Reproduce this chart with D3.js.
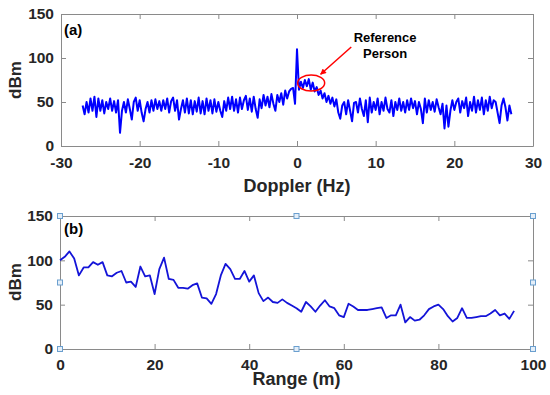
<!DOCTYPE html>
<html>
<head>
<meta charset="utf-8">
<script src="https://cdn.jsdelivr.net/npm/d3@7"></script>
<style>
  body { margin: 0; background: #fff; }
  svg { display: block; }
</style>
</head>
<body>
<main></main>
<script>
// (a) Doppler spectrum, bins every 0.25 Hz from -27.25 to 27.25
const dopplerStart = -27.25;
const dopplerStep = 0.25;
const dopplerDbm = [
  46, 36, 50, 38, 54, 40, 56, 33, 54, 40,
  52, 37, 50, 42, 54, 40, 51, 38, 52, 15,
  40, 50, 38, 53, 42, 30, 50, 55, 40, 52,
  38, 28, 42, 50, 38, 52, 40, 53, 42, 51,
  40, 52, 42, 54, 38, 51, 55, 40, 52, 30,
  42, 52, 38, 54, 37, 52, 36, 51, 39, 55,
  37, 51, 36, 54, 40, 52, 37, 53, 39, 50,
  40, 33, 51, 40, 55, 42, 56, 40, 53, 38,
  55, 42, 52, 57, 41, 54, 39, 56, 42, 32,
  53, 43, 58, 46, 56, 44, 59, 48, 40, 58,
  50, 60, 47, 63, 54, 62, 65, 66, 48, 110,
  64, 73, 66, 75, 68, 76, 64, 72, 62, 67,
  58, 63, 54, 60, 50, 57, 48, 55, 45, 53,
  38, 31, 46, 50, 36, 52, 40, 28, 49, 50,
  38, 54, 42, 34, 52, 27, 55, 38, 50, 41,
  54, 36, 50, 40, 55, 42, 38, 52, 34, 50,
  41, 54, 40, 50, 38, 52, 41, 54, 43, 51,
  36, 50, 42, 26, 54, 38, 52, 41, 50, 39,
  53, 44, 36, 48, 20, 46, 22, 40, 52, 41,
  50, 54, 38, 51, 43, 55, 34, 50, 40, 56,
  38, 52, 41, 55, 36, 52, 40, 56, 43, 52,
  50, 38, 26, 46, 54, 44, 29, 46, 36
];

// (b) power against range, one value per metre from 0 to 96
const rangeDbm = [
  100, 104, 110, 102, 83, 92, 92, 98, 95, 98,
  83, 82, 86, 88, 75, 76, 70, 93, 82, 83,
  62, 90, 103, 79, 78, 69, 69, 68, 72, 74,
  58, 57, 51, 62, 83, 96, 90, 79, 79, 88,
  76, 83, 63, 54, 58, 53, 52, 56, 52, 49,
  46, 42, 53, 48, 42, 49, 55, 48, 46, 38,
  36, 51, 48, 44, 44, 44, 45, 46, 47, 35,
  38, 38, 50, 30, 36, 32, 33, 38, 45, 48,
  50, 45, 37, 31, 35, 46, 35, 35, 36, 37,
  37, 40, 44, 38, 40, 34, 43
];

const dopplerTicks = [-30, -20, -10, 0, 10, 20, 30];
const rangeTicks = [0, 20, 40, 60, 80, 100];
const dbmTicks = [0, 50, 100, 150];

const width = 550;
const height = 395;
const axisGray = '#8a8a8a';
const textColor = '#262626';
const fontFamily = '"Liberation Sans", Arial, sans-serif';

const svg = d3.select('main')
  .append('svg')
  .attr('width', width)
  .attr('height', height)
  .style('background', '#fff')

const defs = svg.append('defs');
defs.append('marker')
  .attr('id', 'arrow')
  .attr('viewBox', '0 0 10 10')
  .attr('refX', 9)
  .attr('refY', 5)
  .attr('markerWidth', 8)
  .attr('markerHeight', 6)
  .attr('markerUnits', 'userSpaceOnUse')
  .attr('orient', 'auto')
  .append('path')
  .attr('d', 'M0,0 L10,5 L0,10 Z')
  .style('fill', '#ff0000')

// Draws a MATLAB-style box with inward ticks on all four sides
function drawBox(x, y, xTicks, xPad) {
  const box = svg.append('g');
  const [x0, x1] = x.range();
  const [y0, y1] = y.range();

  box.append('g')
    .attr('transform', `translate(0, ${y0})`)
    .call(d3.axisBottom(x).tickValues(xTicks).tickSize(-5).tickSizeOuter(0)
      .tickPadding(xPad).tickFormat(d => String(d)));
  box.append('g')
    .attr('transform', `translate(0, ${y1})`)
    .call(d3.axisTop(x).tickValues(xTicks).tickSize(-5).tickSizeOuter(0).tickFormat(''));
  box.append('g')
    .attr('transform', `translate(${x0}, 0)`)
    .call(d3.axisLeft(y).tickValues(dbmTicks).tickSize(-5).tickSizeOuter(0)
      .tickPadding(7).tickFormat(d => String(d)));
  box.append('g')
    .attr('transform', `translate(${x1}, 0)`)
    .call(d3.axisRight(y).tickValues(dbmTicks).tickSize(-5).tickSizeOuter(0).tickFormat(''));

  box.selectAll('.domain, .tick line')
    .attr('stroke', axisGray)
    .attr('stroke-width', 1)
  box.selectAll('.tick text')
    .attr('fill', textColor)
    .style('font-family', fontFamily)
    .style('font-weight', 700)
    .style('font-size', '15.5px')

  return box;
}

function yLabel(text, cy) {
  svg.append('text')
    .attr('transform', `translate(21, ${cy}) rotate(-90)`)
    .attr('text-anchor', 'middle')
    .attr('fill', textColor)
    .style('font-family', fontFamily)
    .style('font-weight', 700)
    .style('font-size', '17px')
    .text(text)
}

function panelTag(text, px, py) {
  svg.append('text')
    .attr('x', px)
    .attr('y', py)
    .attr('fill', '#000')
    .style('font-family', fontFamily)
    .style('font-weight', 700)
    .style('font-size', '15px')
    .text(text)
}

// ---- Panel (a)
const xA = d3.scaleLinear().domain([-30, 30]).range([61, 533]);
const yA = d3.scaleLinear().domain([0, 150]).range([146, 14]);

drawBox(xA, yA, dopplerTicks, 11);

const spectrum = dopplerDbm.map((v, i) => [dopplerStart + i * dopplerStep, v]);

svg.append('path')
  .datum(spectrum)
  .attr('d', d3.line().x(d => xA(d[0])).y(d => yA(d[1])))
  .style('fill', 'none')
  .style('stroke', '#0000ff')
  .style('stroke-width', 2)
  .style('stroke-linejoin', 'round')

yLabel('dBm', 80);
panelTag('(a)', 64, 35);

svg.append('text')
  .attr('x', (xA(-30) + xA(30)) / 2)
  .attr('y', 192)
  .attr('text-anchor', 'middle')
  .attr('fill', textColor)
  .style('font-family', fontFamily)
  .style('font-weight', 700)
  .style('font-size', '18px')
  .text('Doppler (Hz)')

// Annotation
svg.append('ellipse')
  .attr('cx', xA(1.8))
  .attr('cy', yA(71.5))
  .attr('rx', 13.5)
  .attr('ry', 8)
  .style('fill', 'none')
  .style('stroke', '#ff0000')
  .style('stroke-width', 1.5)

svg.append('line')
  .attr('x1', xA(6.9))
  .attr('y1', yA(112.5))
  .attr('x2', xA(3.0))
  .attr('y2', yA(81.5))
  .style('stroke', '#ff0000')
  .style('stroke-width', 1.5)
  .attr('marker-end', 'url(#arrow)')

const note = svg.append('text')
  .attr('text-anchor', 'middle')
  .attr('fill', '#000')
  .style('font-family', fontFamily)
  .style('font-weight', 700)
  .style('font-size', '13px')
note.append('tspan').attr('x', xA(11.2)).attr('y', 41.5).text('Reference')
note.append('tspan').attr('x', xA(11.2)).attr('y', 58).text('Person')

// ---- Panel (b)
const xB = d3.scaleLinear().domain([0, 100]).range([60, 533]);
const yB = d3.scaleLinear().domain([0, 150]).range([349, 216]);

drawBox(xB, yB, rangeTicks, 10);

svg.append('path')
  .datum(rangeDbm)
  .attr('d', d3.line().x((d, i) => xB(i)).y(d => yB(d)))
  .style('fill', 'none')
  .style('stroke', '#1414d8')
  .style('stroke-width', 1.8)
  .style('stroke-linejoin', 'round')

yLabel('dBm', 282);
panelTag('(b)', 64, 234);

svg.append('text')
  .attr('x', (xB(0) + xB(100)) / 2)
  .attr('y', 385)
  .attr('text-anchor', 'middle')
  .attr('fill', textColor)
  .style('font-family', fontFamily)
  .style('font-weight', 700)
  .style('font-size', '18px')
  .text('Range (m)')

// selection handles around panel (b)
const handles = [];
[0, 50, 100].forEach(hx => [0, 75, 150].forEach(hy => {
  if (!(hx === 50 && hy === 75)) handles.push([hx, hy]);
}));

svg.append('g')
  .selectAll('rect')
  .data(handles)
  .enter()
  .append('rect')
  .attr('x', d => xB(d[0]) - 2.5)
  .attr('y', d => yB(d[1]) - 2.5)
  .attr('width', 5)
  .attr('height', 5)
  .style('fill', '#e4eef8')
  .style('stroke', '#6a9fcf')
  .style('stroke-width', 1)
</script>
</body>
</html>
